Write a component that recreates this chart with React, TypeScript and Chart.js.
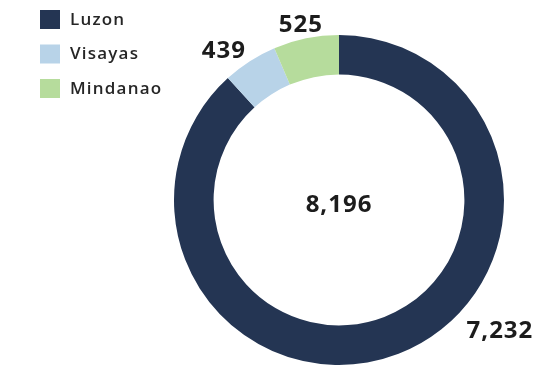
import React, { useEffect, useRef } from "react";
import { Chart, registerables } from "chart.js";

Chart.register(...registerables);

const regions = ["Luzon", "Visayas", "Mindanao"];
const counts = [7232, 439, 525];
const colors = ["#243553", "#b8d3e8", "#b6dc9c"];
const valueLabels = ["7,232", "439", "525"];
const totalLabel = "8,196";
// label placement: fraction along each arc, and gap outside the ring
const labelArcFraction = [0.406, 0.25, 0.47];
const labelGap = [42, 24, 15];

const FONT = '"Open Sans", sans-serif';

const overlayPlugin = {
  id: "overlay",
  afterDraw(chart: any) {
    const ctx = chart.ctx;
    const meta = chart.getDatasetMeta(0);
    ctx.save();
    ctx.fillStyle = "#1c1c1c";
    ctx.textAlign = "center";
    ctx.textBaseline = "middle";
    (ctx as any).letterSpacing = "1px";
    // center total
    const a0 = meta.data[0];
    ctx.font = `700 24px ${FONT}`;
    ctx.fillText(totalLabel, a0.x, a0.y + 5);
    // value labels
    meta.data.forEach((arc: any, i: number) => {
      const ang = arc.startAngle + (arc.endAngle - arc.startAngle) * labelArcFraction[i];
      const r = arc.outerRadius + labelGap[i];
      const x = arc.x + Math.cos(ang) * r;
      const y = arc.y + Math.sin(ang) * r;
      ctx.font = `700 24px ${FONT}`;
      ctx.fillText(valueLabels[i], x, y + 1);
    });
    // legend
    ctx.textAlign = "left";
    (ctx as any).letterSpacing = "1.2px";
    ctx.font = `600 17px ${FONT}`;
    chart.data.labels.forEach((lab: string, i: number) => {
      const top = 10 + i * 34.5;
      ctx.fillStyle = chart.data.datasets[0].backgroundColor[i];
      ctx.fillRect(40, top, 20, 19);
      ctx.fillStyle = "#262626";
      ctx.fillText(lab, 70, top + 10);
    });
    ctx.restore();
  },
};

export default function App() {
  const ref = useRef<HTMLCanvasElement>(null);
  useEffect(() => {
    document.body.style.margin = "0";
    const chart = new Chart(ref.current!, {
      type: "doughnut",
      data: {
        labels: regions,
        datasets: [
          {
            data: counts,
            backgroundColor: colors,
            borderWidth: 0,
          },
        ],
      },
      options: {
        responsive: false,
        animation: false,
        cutout: "76%",
        layout: { padding: { left: 174, right: 52, top: 35, bottom: 2 } },
        plugins: {
          legend: { display: false },
          tooltip: { enabled: false },
        },
      },
      plugins: [overlayPlugin],
    });
    return () => chart.destroy();
  }, []);
  return (
    <div style={{ width: 556, height: 367, background: "#fff" }}>
      <canvas ref={ref} width={556} height={367} />
    </div>
  );
}
